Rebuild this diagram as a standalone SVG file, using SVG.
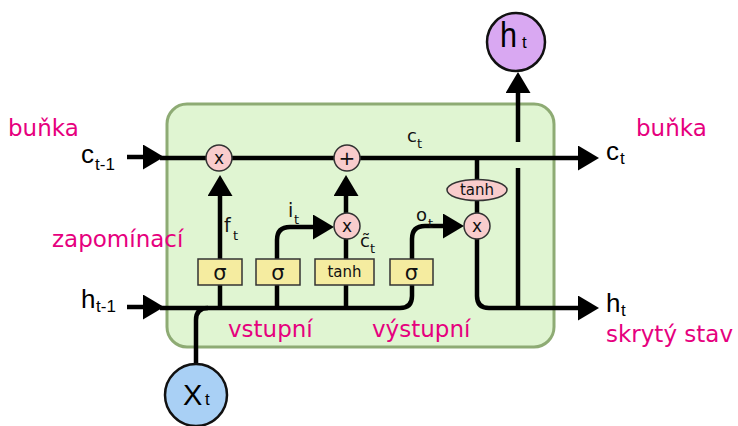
<svg xmlns="http://www.w3.org/2000/svg" width="738" height="426" viewBox="0 0 738 426">
<defs>
<marker id="ah" markerUnits="userSpaceOnUse" markerWidth="22" markerHeight="26" refX="0" refY="12.5" orient="auto">
<path d="M0,0 L21,12.5 L0,25 z" fill="#000"/>
</marker>
<style>
.ln{fill:none;stroke:#000;stroke-width:4.5;stroke-linejoin:round}
.ar{marker-end:url(#ah)}
.op{fill:#f9cccc;stroke:#333;stroke-width:1.5}
.gate{fill:#f5eca0;stroke:#333;stroke-width:1.5}
.mg{font-family:"DejaVu Sans",sans-serif;font-size:23px;fill:#e6007e}
.bl{font-family:"Liberation Sans",sans-serif;fill:#000}
.in{font-family:"DejaVu Sans",sans-serif;fill:#111}
.c{text-anchor:middle}
</style>
</defs>
<rect width="738" height="426" fill="#fff"/>
<g id="cell">
<rect x="167" y="104" width="387" height="243" rx="20" fill="#e0f5d2" stroke="#8eab74" stroke-width="3"/>
</g>
<g id="connectors">
<path class="ln ar" d="M127,157 H143"/>
<path class="ln ar" d="M127,307 H143"/>
<path class="ln ar" d="M160,158 H578"/>
<path class="ln" d="M160,308 H400 Q412,308 412,296 V272"/>
<path class="ln" d="M196,364 V320 Q196,308 208,308"/>
<path class="ln ar" d="M220,308 V196"/>
<path class="ln ar" d="M277,308 V240 Q277,227 290,227 H313"/>
<path class="ln" d="M346,308 V226"/>
<path class="ln ar" d="M346,213 V196"/>
<path class="ln ar" d="M412,272 V239 Q412,226 425,226 H443"/>
<path class="ln ar" d="M477,158 V296 Q477,308 489,308 H578"/>
<path class="ln" d="M518,308 V168"/>
<path class="ln ar" d="M518,142 V93"/>
</g>
<g id="forget-mult"><circle class="op" cx="219" cy="158" r="13"/><text class="in c" x="219" y="164" font-size="17">x</text></g>
<g id="plus"><circle class="op" cx="347" cy="158" r="13"/><text class="in c" x="347" y="165" font-size="20">+</text></g>
<g id="input-mult"><circle class="op" cx="347" cy="226" r="13"/><text class="in c" x="347" y="232" font-size="17">x</text></g>
<g id="output-tanh"><ellipse class="op" cx="477" cy="190" rx="30" ry="10.5"/><text class="in c" x="477" y="195" font-size="15">tanh</text></g>
<g id="output-mult"><circle class="op" cx="477" cy="226" r="13"/><text class="in c" x="477" y="232" font-size="17">x</text></g>
<g id="forget-gate"><rect class="gate" x="198" y="259" width="44" height="26"/><text class="in c" x="220" y="280" font-size="21">σ</text></g>
<g id="input-gate"><rect class="gate" x="256" y="259" width="44" height="26"/><text class="in c" x="278" y="280" font-size="21">σ</text></g>
<g id="tanh-gate"><rect class="gate" x="315" y="259" width="59" height="26"/><text class="in c" x="344.5" y="277" font-size="15">tanh</text></g>
<g id="output-gate"><rect class="gate" x="390" y="259" width="43" height="26"/><text class="in c" x="411.5" y="280" font-size="21">σ</text></g>
<g id="ht-node"><circle cx="516" cy="42" r="29" fill="#d9a8f2" stroke="#111" stroke-width="2.5"/><text class="bl" transform="translate(500,47) scale(0.85,1)" font-size="36">h</text><text class="bl" x="522" y="48" font-size="17">t</text></g>
<g id="xt-node"><circle cx="196" cy="395" r="31" fill="#a9d0f5" stroke="#111" stroke-width="2.5"/><text class="bl" x="183" y="405" font-size="29">X</text><text class="bl" x="205" y="405" font-size="17">t</text></g>
<g id="labels">
<text class="in" x="407" y="142" font-size="18">c</text><text class="in" x="417" y="148" font-size="13">t</text>
<text class="in" x="224" y="232" font-size="19">f</text><text class="in" x="233" y="240" font-size="13">t</text>
<text class="in" x="288" y="217" font-size="19">i</text><text class="in" x="294" y="224" font-size="13">t</text>
<text class="in" x="360" y="247" font-size="18">c̃</text><text class="in" x="370" y="253" font-size="13">t</text>
<text class="in" x="416" y="221" font-size="18">o</text><text class="in" x="428" y="228" font-size="13">t</text>
<text class="bl" x="81" y="163" font-size="26">c</text><text class="bl" x="95" y="170" font-size="17">t-1</text>
<text class="bl" x="81" y="308" font-size="26">h</text><text class="bl" x="96" y="312" font-size="17">t-1</text>
<text class="bl" x="606" y="160" font-size="26">c</text><text class="bl" x="620" y="164" font-size="17">t</text>
<text class="bl" x="606" y="312" font-size="26">h</text><text class="bl" x="621" y="316" font-size="17">t</text>
<text class="mg" x="8" y="136">buňka</text>
<text class="mg" x="52" y="247">zapomínací</text>
<text class="mg" x="228" y="337">vstupní</text>
<text class="mg" x="372" y="337">výstupní</text>
<text class="mg" x="636" y="136">buňka</text>
<text class="mg" x="606" y="342">skrytý stav</text>
</g>
</svg>
